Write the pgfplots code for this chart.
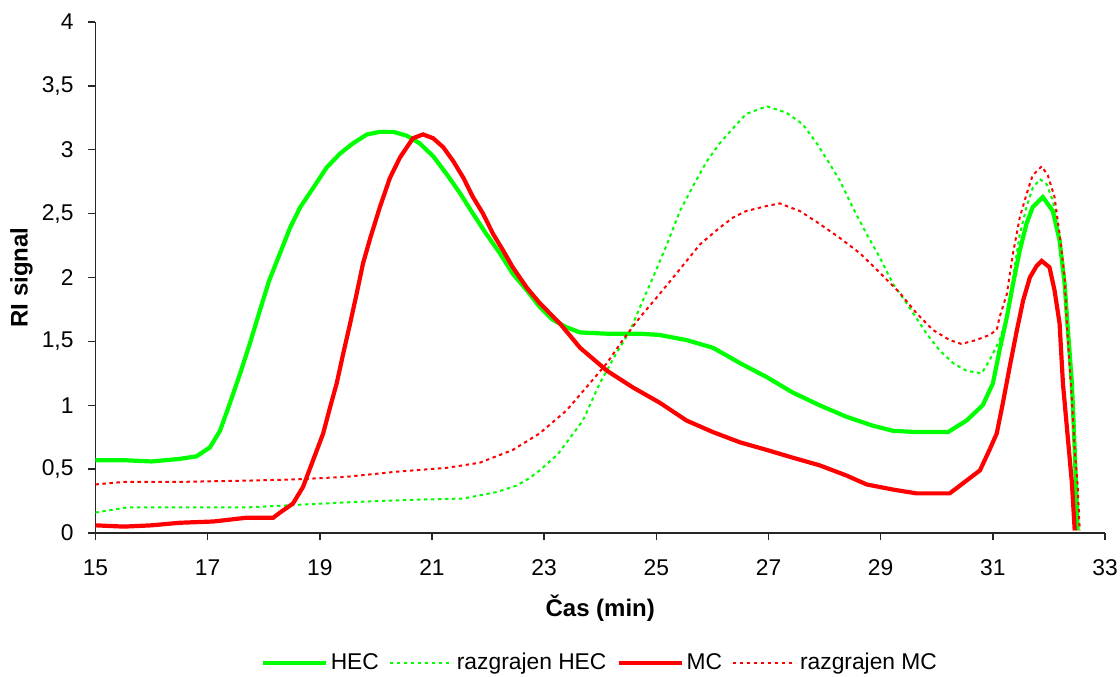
\documentclass[border=0pt]{standalone}
\usepackage{pgfplots}
\pgfplotsset{compat=1.18}
\usepackage{pgfplotstable}
\usepackage{fontspec}
\setmainfont{Liberation Sans}
\definecolor{cgreen}{RGB}{0,255,0}
\definecolor{cred}{RGB}{255,0,0}
\pgfplotstableread{
x y
15.0 0.57
15.5 0.57
16.0 0.56
16.5 0.58
16.8 0.60
17.04 0.67
17.22 0.80
17.4 1.02
17.58 1.25
17.75 1.48
17.93 1.74
18.1 1.98
18.29 2.19
18.47 2.39
18.65 2.55
18.88 2.70
19.12 2.86
19.36 2.97
19.59 3.05
19.84 3.12
20.07 3.14
20.31 3.14
20.55 3.11
20.78 3.05
21.02 2.95
21.26 2.81
21.5 2.66
21.73 2.50
21.97 2.34
22.21 2.19
22.44 2.03
22.69 1.90
22.92 1.77
23.15 1.67
23.4 1.61
23.64 1.57
24.12 1.56
24.71 1.56
25.06 1.55
25.54 1.51
26.01 1.45
26.49 1.33
26.97 1.22
27.43 1.10
27.91 1.00
28.39 0.91
28.86 0.84
29.22 0.80
29.64 0.79
30.2 0.79
30.53 0.88
30.82 1.00
31.0 1.17
31.12 1.43
31.25 1.69
31.36 1.95
31.48 2.21
31.6 2.42
31.71 2.55
31.89 2.63
32.07 2.52
32.19 2.29
32.28 1.95
32.33 1.64
32.41 1.17
32.46 0.65
32.51 0.02
}\hec
\pgfplotstableread{
x y
15.0 0.16
15.56 0.20
16.51 0.20
17.7 0.20
18.59 0.22
19.48 0.24
20.66 0.26
21.56 0.27
22.15 0.32
22.5 0.37
22.74 0.43
22.92 0.49
23.25 0.62
23.69 0.88
23.99 1.17
24.29 1.41
24.53 1.58
24.71 1.77
24.94 2.00
25.19 2.26
25.42 2.52
25.66 2.72
25.9 2.91
26.13 3.05
26.37 3.17
26.6 3.28
26.97 3.34
27.32 3.29
27.61 3.20
27.86 3.05
28.09 2.89
28.27 2.76
28.5 2.55
28.75 2.34
28.98 2.16
29.22 1.95
29.46 1.80
29.64 1.68
29.82 1.56
30.05 1.43
30.29 1.33
30.53 1.27
30.8 1.25
30.94 1.35
31.12 1.51
31.25 1.69
31.36 2.00
31.48 2.34
31.6 2.55
31.71 2.70
31.84 2.77
31.96 2.73
32.07 2.60
32.19 2.34
32.28 1.95
32.36 1.45
32.44 0.80
32.51 0.02
}\rhec
\pgfplotstableread{
x y
15.0 0.06
15.5 0.05
16.0 0.06
16.5 0.08
17.1 0.09
17.7 0.12
18.17 0.12
18.29 0.16
18.52 0.23
18.7 0.36
18.88 0.57
19.06 0.78
19.18 0.98
19.3 1.17
19.42 1.41
19.54 1.64
19.66 1.88
19.77 2.11
19.9 2.31
20.07 2.55
20.25 2.78
20.43 2.94
20.66 3.09
20.84 3.12
21.02 3.09
21.2 3.02
21.38 2.91
21.56 2.78
21.73 2.63
21.91 2.50
22.09 2.34
22.27 2.21
22.44 2.08
22.69 1.92
22.92 1.80
23.28 1.64
23.64 1.45
24.12 1.27
24.58 1.14
25.06 1.02
25.54 0.88
26.01 0.79
26.49 0.71
26.97 0.65
27.43 0.59
27.91 0.53
28.39 0.45
28.75 0.38
29.22 0.34
29.64 0.31
30.23 0.31
30.53 0.41
30.77 0.49
30.94 0.65
31.07 0.78
31.18 1.02
31.3 1.30
31.43 1.59
31.54 1.82
31.66 2.00
31.78 2.09
31.87 2.13
32.01 2.08
32.1 1.90
32.19 1.64
32.25 1.17
32.33 0.78
32.41 0.39
32.46 0.02
}\mc
\pgfplotstableread{
x y
15.0 0.38
15.5 0.40
16.51 0.40
17.7 0.41
18.59 0.42
19.48 0.44
20.37 0.48
21.26 0.51
21.85 0.55
22.44 0.65
22.92 0.78
23.4 0.96
23.81 1.17
24.12 1.33
24.4 1.51
24.71 1.69
25.0 1.84
25.3 2.00
25.54 2.13
25.78 2.26
26.13 2.39
26.37 2.47
26.6 2.52
26.97 2.56
27.2 2.58
27.56 2.52
27.91 2.42
28.27 2.31
28.63 2.19
28.98 2.04
29.34 1.88
29.64 1.72
29.93 1.59
30.23 1.51
30.44 1.48
30.7 1.51
30.94 1.55
31.07 1.59
31.12 1.69
31.25 1.87
31.36 2.19
31.48 2.47
31.6 2.65
31.71 2.80
31.87 2.87
31.98 2.80
32.1 2.63
32.19 2.34
32.28 2.00
32.33 1.56
32.41 1.04
32.46 0.65
32.51 0.39
32.55 0.02
}\rmc
\begin{document}
\fontsize{11.4bp}{13.6bp}\selectfont
\begin{tikzpicture}
\useasboundingbox (-47.75bp,-72bp) rectangle (512.25bp,266.5bp);
\begin{axis}[
  at={(0,0)}, anchor=south west, scale only axis,
  width=504.75bp, height=255.5bp,
  xmin=15, xmax=33, ymin=0, ymax=4,
  axis x line*=bottom, axis y line*=left,
  axis line style={-, line width=0.75bp, black!85},
  xtick={15,17,...,33},
  ytick={0,0.5,1,1.5,2,2.5,3,3.5,4},
  yticklabels={0,{0,5},1,{1,5},2,{2,5},3,{3,5},4},
  tick align=outside, major tick length=3.5bp,
  tick style={line width=0.75bp, black!85},
  /pgf/number format/assume math mode=true,
  ticklabel style={font=\fontsize{11.4bp}{13.6bp}\selectfont},
  xticklabel style={yshift=-6bp},
  yticklabel style={xshift=-3.5bp},
  xlabel={\fontsize{12bp}{14bp}\selectfont\bfseries Čas (min)},
  ylabel={\fontsize{12bp}{14bp}\selectfont\bfseries RI signal},
  xlabel style={at={(0.5,-0.147)}, anchor=center},
  ylabel style={at={(-0.0733,0.5)}, anchor=center},
  legend columns=4,
  legend style={draw=none, at={(0.5,-0.2544)}, anchor=center,
    font=\fontsize{11.4bp}{13.6bp}\selectfont,
    /tikz/every even column/.append style={column sep=3.5bp},
    nodes={inner sep=1.5bp}},
  legend image code/.code={\draw[#1] (0bp,0bp) -- (31.5bp,0bp);},
]
\addplot[cgreen, line width=2.1bp] table {\hec};
\addlegendentry{HEC}
\addplot[cgreen, line width=1bp, dash pattern=on 1.7bp off 1.8bp] table {\rhec};
\addlegendentry{razgrajen HEC}
\addplot[cred, line width=2.1bp] table {\mc};
\addlegendentry{MC}
\addplot[cred, line width=1bp, dash pattern=on 1.7bp off 1.8bp] table {\rmc};
\addlegendentry{razgrajen MC}
\end{axis}
\end{tikzpicture}
\end{document}
